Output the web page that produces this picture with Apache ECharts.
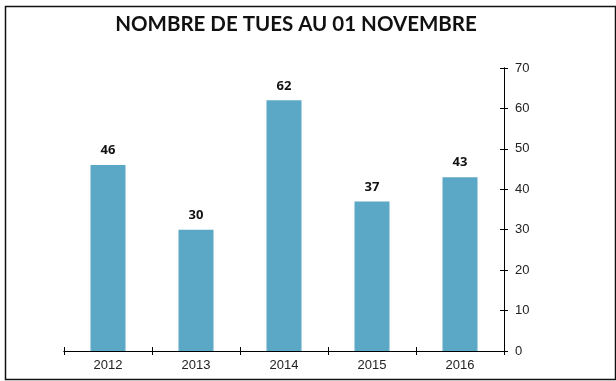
<!DOCTYPE html>
<html>
<head>
<meta charset="utf-8">
<script src="https://cdn.jsdelivr.net/npm/echarts@6/dist/echarts.min.js"></script>
<style>
html,body{margin:0;padding:0;background:#fff;}
#c{width:616px;height:381px;}
</style>
</head>
<body>
<div id="c"></div>
<script>
const categories = ['2012', '2013', '2014', '2015', '2016'];
const values = [46, 30, 62, 37, 43];
const yTicks = [0, 10, 20, 30, 40, 50, 60, 70];

const chart = echarts.init(document.getElementById('c'));
const axisLine = { show: true, lineStyle: { color: '#000', width: 1 } };
chart.setOption({
  animation: false,
  title: {
    text: 'NOMBRE DE TUES AU 01 NOVEMBRE',
    left: 291, textAlign: 'center', top: 9,
    textStyle: { fontFamily: 'Lato', fontWeight: 'bold', fontSize: 20.5, color: '#111' }
  },
  graphic: [{
    type: 'rect', left: 3, top: 4,
    shape: { width: 610, height: 373 },
    style: { fill: 'none', stroke: '#111', lineWidth: 1.5 }
  }],
  grid: { left: 64, right: 112, top: 68, bottom: 30 },
  xAxis: [{
    type: 'category', data: categories, position: 'bottom',
    axisLine: axisLine,
    axisTick: { show: true, length: 4, lineStyle: { color: '#000' } },
    axisLabel: { color: '#222', fontFamily: 'Liberation Sans', fontSize: 13, margin: 8 }
  }, {
    type: 'category', data: categories, position: 'bottom',
    axisLine: axisLine,
    axisTick: { show: true, inside: true, length: 4, lineStyle: { color: '#000' } },
    axisLabel: { show: false }
  }],
  yAxis: [{
    type: 'value', position: 'right', min: yTicks[0], max: yTicks[yTicks.length - 1], interval: 10,
    axisLine: axisLine,
    axisTick: { show: true, length: 4, lineStyle: { color: '#000' } },
    splitLine: { show: false },
    axisLabel: { color: '#222', fontFamily: 'Liberation Sans', fontSize: 13, margin: 11 }
  }, {
    type: 'value', position: 'right', min: yTicks[0], max: yTicks[yTicks.length - 1], interval: 10,
    axisLine: axisLine,
    axisTick: { show: true, inside: true, length: 4, lineStyle: { color: '#000' } },
    splitLine: { show: false },
    axisLabel: { show: false }
  }],
  series: [{
    type: 'bar', data: values, barWidth: 35,
    xAxisIndex: 0, yAxisIndex: 0,
    itemStyle: { color: '#5ba7c6' },
    label: {
      show: true, position: 'top', distance: 8,
      fontFamily: 'Open Sans', fontWeight: 'bold', fontSize: 13, color: '#111'
    }
  }]
});
</script>
</body>
</html>
